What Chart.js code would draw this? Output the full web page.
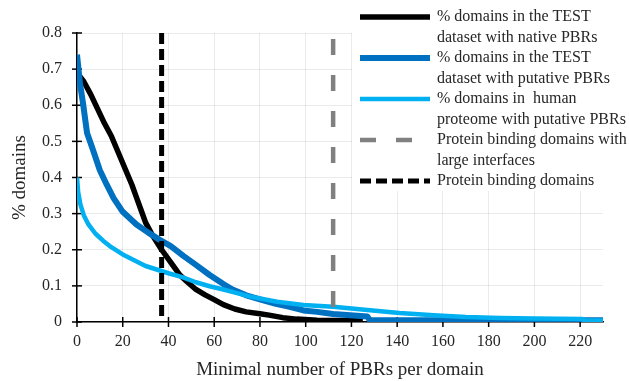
<!DOCTYPE html>
<html>
<head>
<meta charset="utf-8">
<script src="https://cdn.jsdelivr.net/npm/chart.js@4.4.1/dist/chart.umd.min.js"></script>
<style>
  html, body { margin: 0; padding: 0; background: #fff; }
</style>
</head>
<body>
<canvas id="chart" width="629" height="381"></canvas>
<script>
// values
const nativeX = [0, 3, 6, 9, 12, 15, 18, 21, 24, 26, 28, 30, 33, 37, 41, 45, 48, 52, 56, 60, 64, 69, 74, 80, 84, 90, 96, 105, 125];
const nativeY = [0.69, 0.665, 0.63, 0.59, 0.55, 0.515, 0.47, 0.425, 0.38, 0.345, 0.31, 0.275, 0.24, 0.2, 0.165, 0.13, 0.112, 0.09, 0.075, 0.062, 0.048, 0.036, 0.028, 0.023, 0.019, 0.012, 0.008, 0.005, 0.004];

const testX = [0, 1.3, 2.6, 4.4, 7, 10, 13, 16, 20, 26, 31, 36, 41, 46.5, 52, 58, 64, 68, 74, 81.5, 87, 93, 99, 105, 112, 127, 128, 230];
const testY = [0.74, 0.66, 0.607, 0.523, 0.476, 0.42, 0.38, 0.343, 0.305, 0.27, 0.248, 0.228, 0.21, 0.183, 0.158, 0.13, 0.105, 0.09, 0.074, 0.06, 0.05, 0.042, 0.032, 0.028, 0.022, 0.015, 0.005, 0.005];

const humanX = [0, 0.5, 1.5, 3, 5, 8, 11.4, 15, 20, 30, 40, 46, 52, 58, 64, 70, 76, 87.5, 99, 112, 127, 141, 156, 170, 185, 200, 221, 222, 230];
const humanY = [0.40, 0.36, 0.325, 0.295, 0.27, 0.245, 0.225, 0.207, 0.187, 0.155, 0.135, 0.124, 0.11, 0.099, 0.09, 0.08, 0.07, 0.056, 0.047, 0.042, 0.033, 0.025, 0.019, 0.014, 0.011, 0.01, 0.008, 0.004, 0.004];

const largeInterfaceX = 112;   // gray dashed marker
const bindingDomainX = 37;     // black dashed marker
const markerSpan = [0, 0.8];

const xTickValues = [0, 20, 40, 60, 80, 100, 120, 140, 160, 180, 200, 220];
const yTickValues = [0, 0.1, 0.2, 0.3, 0.4, 0.5, 0.6, 0.7, 0.8];

const seriesLabels = [
  ['% domains in the TEST', 'dataset with native PBRs'],
  ['% domains in the TEST', 'dataset with putative PBRs'],
  ['% domains in  human', 'proteome with putative PBRs'],
  ['Protein binding domains with', 'large interfaces'],
  ['Protein binding domains']
];

const xTitle = 'Minimal number of PBRs per domain';
const yTitle = '% domains';

const textColor = '#262626';
const serif = '"Liberation Serif", "Times New Roman", serif';
Chart.defaults.font.family = serif;
Chart.defaults.color = textColor;

function toPoints(xs, ys) {
  return xs.map((x, i) => ({ x: x, y: ys[i] }));
}
function vertical(x) {
  return markerSpan.slice().reverse().map(y => ({ x: x, y: y }));
}

const styles = [
  { color: '#000000', width: 5.5, dash: [] },
  { color: '#0070C0', width: 6, dash: [] },
  { color: '#00B0F0', width: 4.5, dash: [] },
  { color: '#808080', width: 4.5, dash: [16, 20], offset: 30 },
  { color: '#000000', width: 5, dash: [11, 5], offset: 0 }
];

const dataSets = [
  toPoints(nativeX, nativeY),
  toPoints(testX, testY),
  toPoints(humanX, humanY),
  vertical(largeInterfaceX),
  vertical(bindingDomainX)
];

// white box + two-line legend entries like the original
const legendBox = {
  id: 'legendBox',
  beforeDatasetsDraw(chart) {
    const ctx = chart.ctx;
    ctx.save();
    ctx.fillStyle = '#fff';
    ctx.fillRect(352, 0, 277, 191);
    ctx.restore();
  },
  afterDraw(chart) {
    const ctx = chart.ctx;
    ctx.save();
    ctx.font = '16px ' + serif;
    ctx.textBaseline = 'middle';
    ctx.fillStyle = textColor;
    let line = 0;
    seriesLabels.forEach((lines, i) => {
      const st = styles[i];
      const y = 17 + line * 20.5;
      ctx.beginPath();
      ctx.strokeStyle = st.color;
      ctx.lineWidth = st.width;
      ctx.setLineDash(st.dash);
      ctx.moveTo(360, y);
      ctx.lineTo(430, y);
      ctx.stroke();
      ctx.setLineDash([]);
      lines.forEach(t => {
        ctx.fillText(t, 437, 17 + line * 20.5);
        line++;
      });
    });
    ctx.restore();
  }
};

// tick marks crossing the axes
const crossTicks = {
  id: 'crossTicks',
  beforeDatasetsDraw(chart) {
    const { ctx, scales: { x, y } } = chart;
    ctx.save();
    ctx.strokeStyle = '#000';
    ctx.lineWidth = 1.5;
    const y0 = y.getPixelForValue(0);
    const x0 = x.getPixelForValue(0);
    x.ticks.forEach(t => {
      const px = x.getPixelForValue(t.value);
      ctx.beginPath();
      ctx.moveTo(px, y0 - 5);
      ctx.lineTo(px, y0 + 5);
      ctx.stroke();
    });
    y.ticks.forEach(t => {
      const py = y.getPixelForValue(t.value);
      ctx.beginPath();
      ctx.moveTo(x0 - 5, py);
      ctx.lineTo(x0 + 5, py);
      ctx.stroke();
    });
    ctx.restore();
  }
};

new Chart(document.getElementById('chart'), {
  type: 'line',
  data: {
    datasets: dataSets.map((pts, i) => ({
      label: seriesLabels[i].join(' '),
      data: pts,
      borderColor: styles[i].color,
      borderWidth: styles[i].width,
      borderDash: styles[i].dash,
      borderDashOffset: styles[i].offset || 0,
      borderCapStyle: 'butt',
      borderJoinStyle: 'round',
      pointRadius: 0,
      tension: 0,
      fill: false,
      order: 5 - i
    }))
  },
  options: {
    responsive: false,
    animation: false,
    layout: { padding: { top: 33, right: 26, left: 0, bottom: 0 } },
    plugins: {
      legend: { display: false },
      tooltip: { enabled: false }
    },
    scales: {
      x: {
        type: 'linear',
        min: 0,
        max: 230,
        afterBuildTicks: s => { s.ticks = xTickValues.map(v => ({ value: v })); },
        afterFit: s => { s.height = 59; },
        ticks: { padding: 10, font: { size: 16 }, color: textColor, maxRotation: 0, autoSkip: false },
        grid: { color: 'rgba(0,0,0,0.08)', drawTicks: false },
        border: { color: '#000', width: 1.5 },
        title: { display: true, text: xTitle, font: { size: 19 }, padding: 0, color: textColor }
      },
      y: {
        min: 0,
        max: 0.8,
        afterBuildTicks: s => { s.ticks = yTickValues.map(v => ({ value: v })); },
        afterFit: s => { s.width = 77; },
        ticks: {
          padding: 15,
          font: { size: 16 },
          color: textColor,
          autoSkip: false,
          callback: v => (v === 0 ? '0' : v.toFixed(1))
        },
        grid: { color: 'rgba(0,0,0,0.08)', drawTicks: false },
        border: { color: '#000', width: 1.5 },
        title: { display: true, text: yTitle, font: { size: 19 }, padding: { top: 9, bottom: 0 }, color: textColor }
      }
    }
  },
  plugins: [legendBox, crossTicks]
});
</script>
</body>
</html>
